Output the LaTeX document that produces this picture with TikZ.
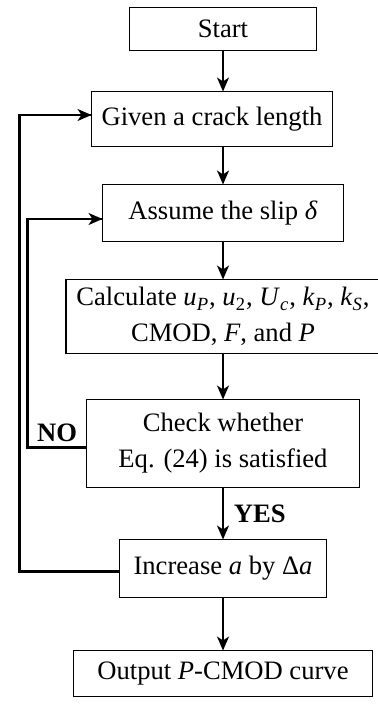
\documentclass[tikz,border=0pt]{standalone}
\usepackage{fontspec}
\setmainfont{Liberation Serif}
\usepackage{tikz}
\usetikzlibrary{arrows.meta, positioning}

\begin{document}
\begin{tikzpicture}[node distance=20pt,
  block/.style={rectangle, draw, line width=0.9pt, inner sep=2pt, outer sep=0pt, font=\fontsize{13.3}{18}\selectfont, align=center},
  arrow/.style={-{Stealth[length=7pt, width=6pt, inset=2pt]}, line width=0.9pt},
  loop/.style={line width=1.4pt},
  tag/.style={font=\fontsize{13.3}{16}\selectfont\bfseries, inner sep=1pt}]

\useasboundingbox (0,0) rectangle (188.5pt,-352.5pt);

\node[block, minimum width=93.5pt, minimum height=21.5pt] (start) at (111.5pt,-14.5pt) {Start};
\node[block, minimum width=120.5pt, minimum height=27.5pt, below=20.5pt of start, xshift=-5.5pt] (given) {Given a crack length};
\node[block, minimum width=120.5pt, minimum height=28.5pt, below=19pt of given, xshift=5.5pt] (assume) {Assume the slip \textit{δ}};
\node[block, minimum width=157pt, minimum height=37pt, below=19pt of assume] (calc) {Calculate \textit{u}\textsubscript{\textit{P}}, \textit{u}\textsubscript{2}, \textit{U}\textsubscript{\textit{c}}, \textit{k}\textsubscript{\textit{P}}, \textit{k}\textsubscript{\textit{S}},\\CMOD, \textit{F}, and \textit{P}};
\node[block, minimum width=136.5pt, minimum height=44pt, below=23pt of calc] (check) {Check whether\\Eq. (24) is satisfied};
\node[block, minimum width=103.5pt, minimum height=29pt, below=26pt of check] (increase) {Increase \textit{a} by Δ\textit{a}};
\node[block, minimum width=149.5pt, minimum height=23pt, below=26.5pt of increase] (output) {Output \textit{P}-CMOD curve};

\draw[arrow] (start) -- (start |- given.north);
\draw[arrow] (assume.north |- given.south) -- (assume);
\draw[arrow] (assume) -- (calc);
\draw[arrow] (calc) -- (check);
\draw[arrow] (check) -- node[tag, right=4pt] {YES} (increase);
\draw[arrow] (increase) -- (output);

% loops back
\draw[loop] ([yshift=-2pt]check.west) -- ++(-29.5pt,0) node[tag, midway, above=1pt] {NO} |- ([yshift=-3pt]assume.west);
\draw[arrow] ([xshift=-8pt,yshift=-3pt]assume.west) -- ([yshift=-3pt]assume.west);
\draw[loop] ([yshift=-1.5pt]increase.west) -- ++(-50pt,0) |- ([yshift=2pt]given.west);
\draw[arrow] ([xshift=-8pt,yshift=2pt]given.west) -- ([yshift=2pt]given.west);
\end{tikzpicture}
\end{document}
